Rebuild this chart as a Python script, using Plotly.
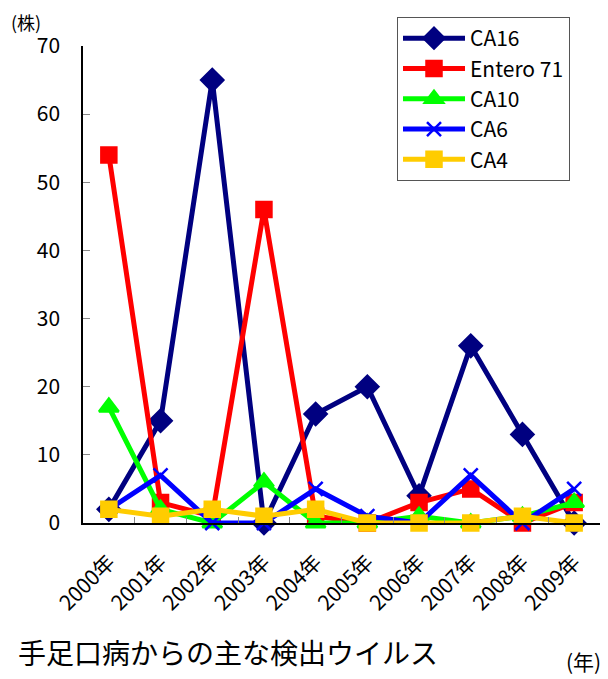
import plotly.graph_objects as go

years = ["2000年", "2001年", "2002年", "2003年", "2004年", "2005年", "2006年", "2007年", "2008年", "2009年"]
ca16 = [2, 15, 65, 0, 16, 20, 4, 26, 13, 0]
entero71 = [54, 3, 1, 46, 1, 0, 3, 5, 0, 3]
ca10 = [17, 2, 0, 6, 0, 0, 1, 0, 1, 3]
ca6 = [2, 7, 0, 0, 5, 1, 0, 7, 0, 5]
ca4 = [2, 1, 2, 1, 2, 0, 0, 0, 1, 0]
y_ticks = [0, 10, 20, 30, 40, 50, 60, 70]

FONT = "Noto Sans CJK JP, Liberation Sans, sans-serif"

series = [
    ("CA16", ca16, "#000080", "diamond", 17),
    ("Entero 71", entero71, "#FF0000", "square", 15),
    ("CA10", ca10, "#00FF00", "triangle-up", 17),
    ("CA6", ca6, "#0000FF", "x-thin", 14),
    ("CA4", ca4, "#FFCC00", "square", 15),
]

# page body has an 8px margin; figure coordinates are screen coords minus 8
OFF = 8
W, H = 608 - OFF, 679 - OFF
L, R = 83 - OFF, 8
PLOT_TOP = 46 - OFF
PLOT_BOTTOM = 523 - OFF
T = 2
B = H - PLOT_BOTTOM
pw = W - L - R
ph = H - T - B
ydom_top = (H - B - PLOT_TOP) / ph

fig = go.Figure()
for name, vals, color, sym, sz in series:
    fig.add_trace(go.Scatter(
        x=years, y=vals, name=name, mode="lines+markers",
        line=dict(color=color, width=5),
        marker=dict(symbol=sym, size=sz, color=color,
                    line=dict(color=color, width=2.5)),
        cliponaxis=False,
    ))

def px_x(x):
    return (x - OFF - L) / pw

def px_y(y):
    return (H - B - (y - OFF)) / ph

fig.update_layout(
    width=W, height=H,
    margin=dict(l=L, r=R, t=T, b=B, autoexpand=False),
    paper_bgcolor="white", plot_bgcolor="white",
    font=dict(family=FONT, color="black"),
    showlegend=True,
    legend=dict(
        x=px_x(397), y=px_y(17), xanchor="left", yanchor="top",
        bgcolor="white", bordercolor="#555555", borderwidth=1,
        font=dict(size=21, family=FONT),
        itemwidth=62,
    ),
    xaxis=dict(
        type="category", showgrid=False, showline=True, linecolor="black", linewidth=1.5,
        ticks="inside", tickson="boundaries", ticklen=6, tickcolor="#888888",
        tickangle=-45, tickfont=dict(size=21, family=FONT),
        ticklabelstandoff=17, automargin=False,
        range=[-0.5, 9.5],
    ),
    yaxis=dict(
        range=[0, 70], tickvals=y_ticks, showgrid=False,
        domain=[0, ydom_top],
        showline=True, linecolor="black", linewidth=1.5,
        ticks="inside", ticklen=7, tickcolor="#888888",
        tickfont=dict(size=21, family=FONT), ticklabelstandoff=17,
        zeroline=False, automargin=False,
    ),
    annotations=[
        dict(text="(株)", x=px_x(10), y=px_y(8), xref="paper", yref="paper", showarrow=False,
             font=dict(size=18, family=FONT), xanchor="left", yanchor="top", borderpad=0),
        dict(text="手足口病からの主な検出ウイルス", x=px_x(16), y=px_y(652),
             xref="paper", yref="paper", showarrow=False,
             font=dict(size=28, family=FONT), xanchor="left", yanchor="middle"),
        dict(text="(年)", x=px_x(603), y=px_y(661), xref="paper", yref="paper",
             showarrow=False, font=dict(size=21, family=FONT),
             xanchor="right", yanchor="middle"),
    ],
)

fig.write_html("out.html")
